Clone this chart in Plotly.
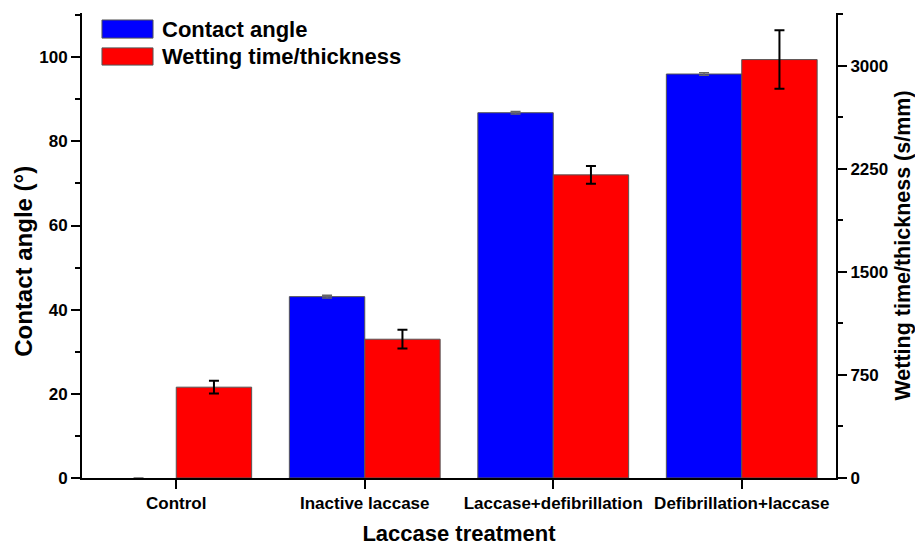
import plotly.graph_objects as go

categories = ["Control", "Inactive laccase", "Laccase+defibrillation", "Defibrillation+laccase"]
contact_angle = [0, 43.1, 86.8, 96.0]
contact_angle_err = [None, 0.3, 0.3, 0.3]
wetting = [661, 1010, 2206, 3045]
wetting_err = [46, 68, 64, 213]
series_names = ["Contact angle", "Wetting time/thickness"]
series_colors = ["#0000ff", "#ff0000"]
left_ticks = [0, 20, 40, 60, 80, 100]
right_ticks = [0, 750, 1500, 2250, 3000]

FONT = "Liberation Sans"

fig = go.Figure()
fig.add_trace(go.Bar(
    x=categories, y=contact_angle, name=series_names[0],
    marker=dict(color=series_colors[0],
                line=dict(color="#555555", width=[0 if v == 0 else 1 for v in contact_angle])),
    width=0.4, offset=-0.4, yaxis="y", showlegend=False,
    error_y=dict(type="data", array=contact_angle_err, color="#666666", thickness=1.5, width=5),
))
fig.add_trace(go.Bar(
    x=categories, y=wetting, name=series_names[1],
    marker=dict(color=series_colors[1], line=dict(color="#555555", width=1)),
    width=0.4, offset=0, yaxis="y2", showlegend=False,
    error_y=dict(type="data", array=wetting_err, color="black", thickness=2, width=5),
))

def tf(size):
    return dict(family=FONT, size=size, color="black", weight="bold")

axis_common = dict(
    showline=True, linecolor="black", linewidth=2, showgrid=False, zeroline=False,
    ticks="outside", ticklen=9, tickwidth=2, tickcolor="black",
    tickfont=tf(17), automargin=False,
)

# the page adds an 8px body margin, so the figure is sized 8px smaller
fig.update_layout(
    width=915, height=538,
    margin=dict(l=74, r=87, t=5, b=68),
    plot_bgcolor="white", paper_bgcolor="white",
    showlegend=False,
    xaxis=dict(**axis_common, range=[-0.5, 3.5],
               title=dict(text="Laccase treatment", font=tf(22), standoff=18)),
    yaxis=dict(**axis_common, range=[0, 110.5], tickvals=left_ticks,
               minor=dict(dtick=10, ticklen=5, tickwidth=2, tickcolor="black", ticks="outside", showgrid=False)),
    yaxis2=dict(**axis_common, range=[0, 3384], overlaying="y", side="right",
                tickvals=right_ticks,
                minor=dict(dtick=375, ticklen=5, tickwidth=2, tickcolor="black", ticks="outside", showgrid=False),
                title=dict(text="Wetting time/thickness (s/mm)", font=tf(21.5), standoff=8)),
)

# left axis title (placed slightly below centre as in the reference)
fig.add_annotation(xref="paper", yref="paper", x=-0.077, y=0.467, text="Contact angle (°)",
                   textangle=-90, showarrow=False, xanchor="center", yanchor="middle", font=tf(24))

# legend (custom, larger swatches as in the reference)
legend_rows = [(0.946, 0.985), (0.888, 0.925)]
for (y0, y1), name, color in zip(legend_rows, series_names, series_colors):
    fig.add_shape(type="rect", xref="paper", yref="paper", x0=0.0265, x1=0.0942, y0=y0, y1=y1,
                  fillcolor=color, line=dict(color="#555555", width=1))
    fig.add_annotation(xref="paper", yref="paper", x=0.1034, y=(y0 + y1) / 2, text=name,
                       showarrow=False, xanchor="left", yanchor="middle", font=tf(22))

fig.write_html("out.html")
